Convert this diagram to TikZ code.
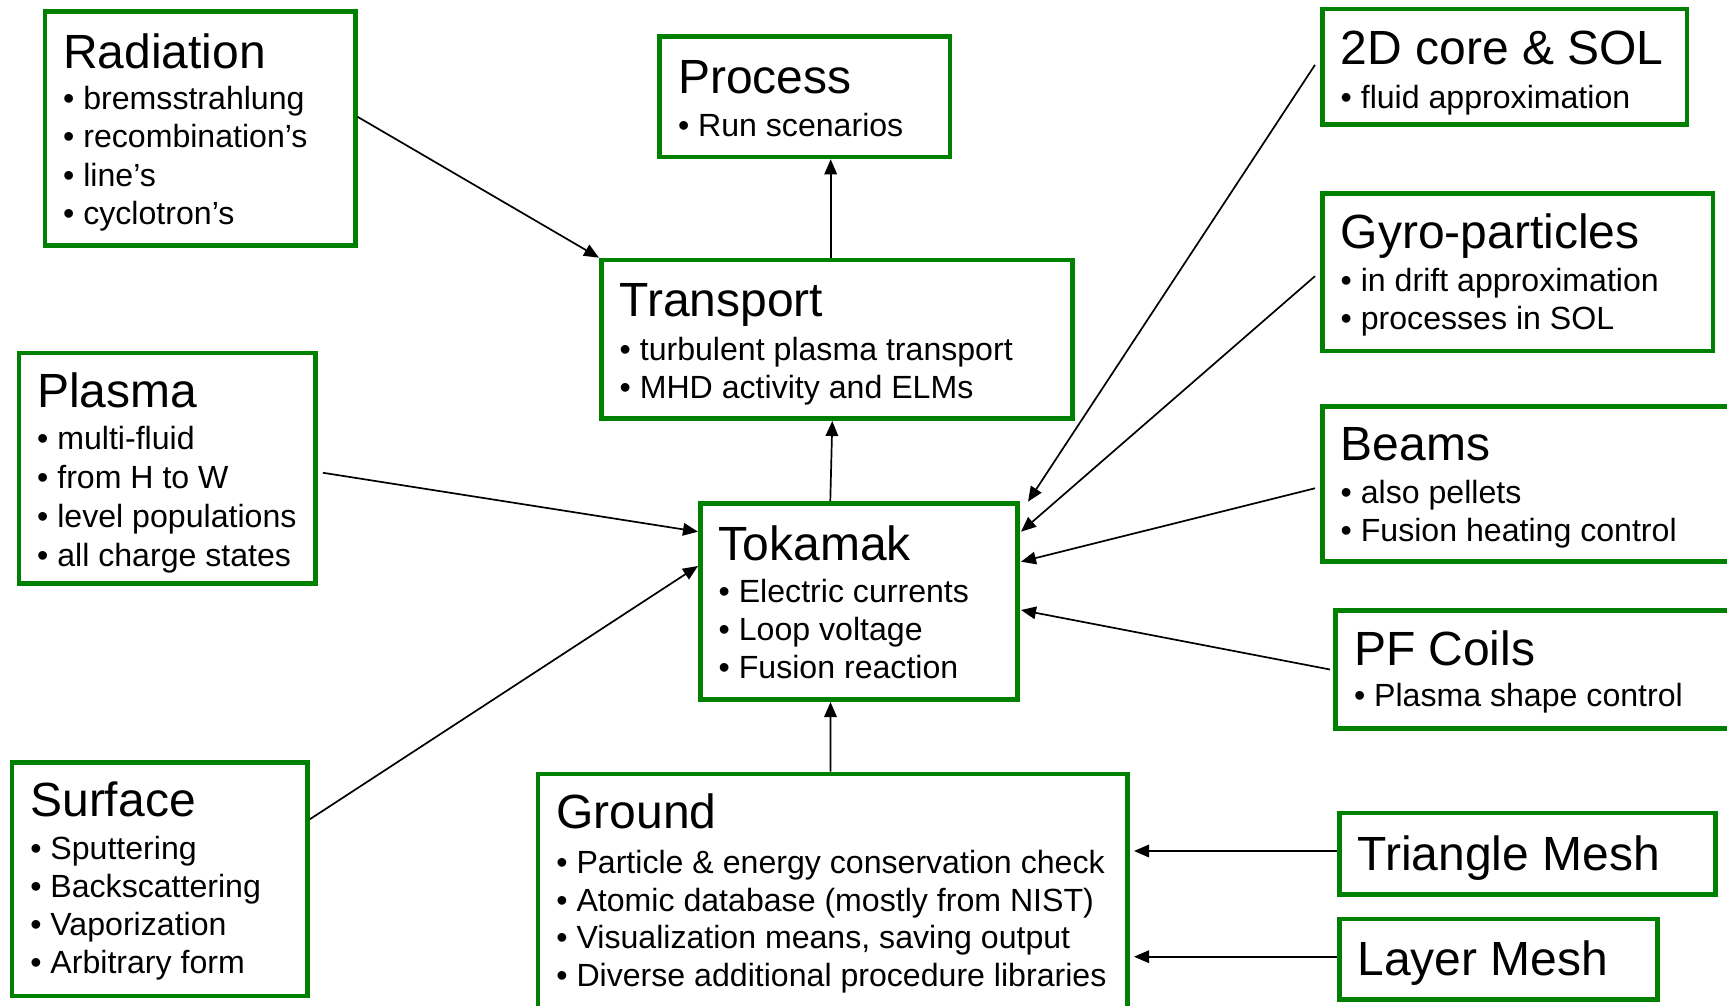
\documentclass[tikz,border=0pt]{standalone}
\usepackage{fontspec}
\setmainfont{Liberation Sans}
\usetikzlibrary{arrows.meta,calc}
\definecolor{boxgreen}{RGB}{0,128,0}
\tikzset{
  box/.style={draw=boxgreen, line width=4.7pt, rectangle, inner sep=0pt, fill=white},
  headtext/.style={anchor=base west, inner sep=0pt, font=\fontsize{48}{52}\selectfont},
  itemtext/.style={anchor=base west, inner sep=0pt, font=\fontsize{32.1}{36}\selectfont, yshift=-1.5pt},
  arr/.style={line width=1.7pt, -{Triangle[length=15pt,width=12.5pt]}},
}
% frame node from its outer edges: name, left, top, right, bottom
\newcommand{\panel}[5]{%
  \node[box, minimum width={#4-#2-4.7}, minimum height={#5-#3-4.7}] (#1) at ({(#2+#4)/2},{(#3+#5)/2}) {};}

\begin{document}
\begin{tikzpicture}[x=1pt,y=-1pt]
\useasboundingbox (0,0) rectangle (1727,1006);
\fill[white] (0,0) rectangle (1727,1006);
\clip (0,0) rectangle (1727,1006);

% ---------- frames ----------
\panel{rad}{42.5}{9.5}{357.5}{248}
\panel{proc}{657.3}{34.3}{952.3}{159.3}
\panel{trans}{599}{257.7}{1075}{421}
\panel{plasma}{16.5}{350.5}{318}{586}
\panel{tok}{698}{501}{1020}{702}
\panel{surf}{9.6}{760}{310}{998.3}
\panel{ground}{535.7}{771.7}{1130}{1030}
\panel{core}{1320}{6.7}{1689.3}{127}
\panel{gyro}{1320}{191}{1715.3}{353.3}
\panel{beams}{1320}{404}{1760}{564}
\panel{pf}{1333.3}{608.3}{1760}{730.7}
\panel{tri}{1336.8}{810.7}{1718}{896.7}
\panel{layer}{1336.8}{916.7}{1660}{1001.7}

% ---------- texts ----------
\node[headtext] (rad-h) at (63,68.3) {Radiation};
\foreach \t [count=\i] in {bremsstrahlung, recombination’s, line’s, cyclotron’s}
  \node[itemtext] (rad-\i) at (63,{108.3+38.2*(\i-1)}) {• \t};

\node[headtext] (proc-h) at (677.8,93.3) {Process};
\node[itemtext] (proc-1) at (677.8,135) {• Run scenarios};

\node[headtext] (trans-h) at (619.5,316.7) {Transport};
\foreach \t [count=\i] in {turbulent plasma transport, MHD activity and ELMs}
  \node[itemtext] (trans-\i) at (619.5,{359.3+37.4*(\i-1)}) {• \t};

\node[headtext] (plasma-h) at (37,407.3) {Plasma};
\foreach \t [count=\i] in {multi-fluid, from H to W, level populations, all charge states}
  \node[itemtext] (plasma-\i) at (37,{448.3+38.9*(\i-1)}) {• \t};

\node[headtext] (tok-h) at (718.5,560) {Tokamak};
\foreach \t [count=\i] in {Electric currents, Loop voltage, Fusion reaction}
  \node[itemtext] (tok-\i) at (718.5,{600.7+38.3*(\i-1)}) {• \t};

\node[headtext] (surf-h) at (30.1,816) {Surface};
\foreach \t [count=\i] in {Sputtering, Backscattering, Vaporization, Arbitrary form}
  \node[itemtext] (surf-\i) at (30.1,{858.3+37.8*(\i-1)}) {• \t};

\node[headtext] (ground-h) at (556.2,828.3) {Ground};
\foreach \t [count=\i] in {Particle \& energy conservation check, Atomic database (mostly from NIST), {Visualization means, saving output}, Diverse additional procedure libraries}
  \node[itemtext] (ground-\i) at (556.2,{871.7+37.8*(\i-1)}) {• \t};

\node[headtext] (core-h) at (1340.5,65) {2D core \& SOL};
\node[itemtext] (core-1) at (1340.5,106.7) {• fluid approximation};

\node[headtext] (gyro-h) at (1340.5,248.3) {Gyro-particles};
\foreach \t [count=\i] in {in drift approximation, processes in SOL}
  \node[itemtext] (gyro-\i) at (1340.5,{290+38.3*(\i-1)}) {• \t};

\node[headtext] (beams-h) at (1340.5,460) {Beams};
\foreach \t [count=\i] in {also pellets, Fusion heating control}
  \node[itemtext] (beams-\i) at (1340.5,{501.7+38.3*(\i-1)}) {• \t};

\node[headtext] (pf-h) at (1353.8,665) {PF Coils};
\node[itemtext] (pf-1) at (1353.8,705) {• Plasma shape control};

\node[headtext] (tri-h) at (1357.3,870) {Triangle Mesh};
\node[headtext] (layer-h) at (1357.3,975) {Layer Mesh};

% ---------- connectors ----------
\draw[arr] ($(rad.east)+(0,-12)$) -- (trans.north west);
\draw[arr] ($(trans.north)+(-6.3,0)$) -- ($(proc.south)+(25.9,0)$);
\draw[arr] ($(tok.north)+(-28.7,0)$) -- ($(trans.south)+(-4.7,0)$);
\draw[arr] ($(ground.north)+(-2.35,0)$) -- ($(tok.south)+(-28.5,0)$);
\draw[arr] ($(plasma.east)+(4.8,4.5)$) -- ($(tok.west)+(0,-69.8)$);
\draw[arr] ($(surf.east)+(0,-60)$) -- ($(tok.west)+(0,-35.5)$);
\draw[arr] ($(core.west)+(-5,-2)$) -- ($(tok.north east)+(8,0.7)$);
\draw[arr] ($(gyro.west)+(-5,4)$) -- ($(tok.east)+(1,-69.8)$);
\draw[arr] ($(beams.west)+(-5,4.3)$) -- ($(tok.east)+(1,-39.8)$);
\draw[arr] ($(pf.west)+(-3.3,0)$) -- ($(tok.east)+(1,8.5)$);
\draw[arr] ($(tri.west)+(0,-2.7)$) -- ($(tri.west -| ground.east)+(4,-2.7)$);
\draw[arr] ($(layer.west)+(0,-2.5)$) -- ($(layer.west -| ground.east)+(4,-2.5)$);
\end{tikzpicture}
\end{document}
